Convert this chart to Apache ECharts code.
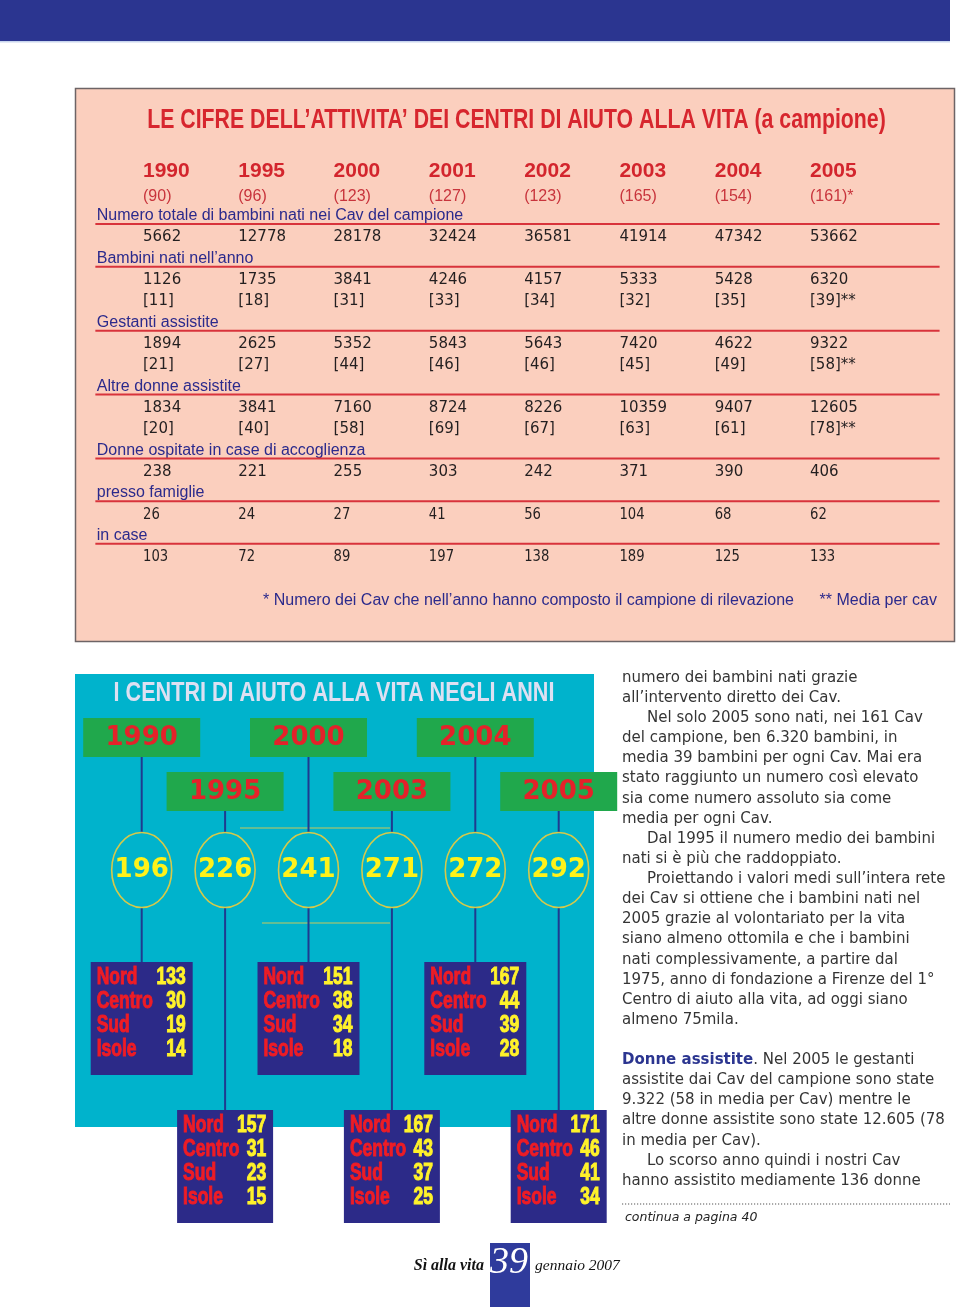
<!DOCTYPE html>
<html><head><meta charset="utf-8">
<script src="https://cdn.jsdelivr.net/npm/echarts@6/dist/echarts.min.js"></script>
<style>html,body{margin:0;padding:0;background:#fff}#c{width:960px;height:1307px}</style>
</head><body><div id="c"></div>
<script>
// ---------- DATA: table ----------
const years = ['1990','1995','2000','2001','2002','2003','2004','2005'];
const cavSample = [90, 96, 123, 127, 123, 165, 154, 161];
const cavSampleNote = ['', '', '', '', '', '', '', '*'];
const rowLabels = [
  'Numero totale di bambini nati nei Cav del campione',
  'Bambini nati nell’anno',
  'Gestanti assistite',
  'Altre donne assistite',
  'Donne ospitate in case di accoglienza',
  'presso famiglie',
  'in case'
];
const totalBorn   = [5662, 12778, 28178, 32424, 36581, 41914, 47342, 53662];
const bornYear    = [1126, 1735, 3841, 4246, 4157, 5333, 5428, 6320];
const bornAvg     = [11, 18, 31, 33, 34, 32, 35, 39];
const pregnant    = [1894, 2625, 5352, 5843, 5643, 7420, 4622, 9322];
const pregnantAvg = [21, 27, 44, 46, 46, 45, 49, 58];
const otherWomen  = [1834, 3841, 7160, 8724, 8226, 10359, 9407, 12605];
const otherAvg    = [20, 40, 58, 69, 67, 63, 61, 78];
const hosted      = [238, 221, 255, 303, 242, 371, 390, 406];
const families    = [26, 24, 27, 41, 56, 104, 68, 62];
const inHomes     = [103, 72, 89, 197, 138, 189, 125, 133];

// ---------- DATA: timeline ----------
const timelineYears = ['1990','1995','2000','2003','2004','2005'];
const cavTotal = [196, 226, 241, 271, 272, 292];
const regionNames = ['Nord','Centro','Sud','Isole'];
const nord   = [133, 157, 151, 167, 167, 171];
const centro = [30, 31, 38, 43, 44, 46];
const sud    = [19, 23, 34, 37, 39, 41];
const isole  = [14, 15, 18, 25, 28, 34];

// ---------- build table cells ----------
const SANS = 'Liberation Sans, Arial, sans-serif';
const DV = 'DejaVu Sans, sans-serif';
const cells = [];
years.forEach((y, i) => {
  cells.push({x: i, y: -2.1, text: y, k: 'year'});
  cells.push({x: i, y: -0.93, text: '(' + cavSample[i] + ')' + cavSampleNote[i], k: 'cnt'});
});
const groups = [
  {label: rowLabels[0], rows: [totalBorn], avg: null},
  {label: rowLabels[1], rows: [bornYear], avg: bornAvg},
  {label: rowLabels[2], rows: [pregnant], avg: pregnantAvg},
  {label: rowLabels[3], rows: [otherWomen], avg: otherAvg},
  {label: rowLabels[4], rows: [hosted], avg: null},
  {label: rowLabels[5], rows: [families], avg: null, narrow: true},
  {label: rowLabels[6], rows: [inHomes], avg: null, narrow: true}
];
let line = 0;
groups.forEach(g => {
  cells.push({x: -0.485, y: line, text: g.label, k: 'label'});
  cells.push({x: -0.5, x2: 8.36, y: line + 0.38, k: 'rule'});
  line++;
  g.rows.forEach(r => {
    r.forEach((v, i) => cells.push({x: i, y: line, text: String(v), k: g.narrow ? 'valn' : 'val'}));
    line++;
  });
  if (g.avg) {
    g.avg.forEach((v, i) => cells.push({x: i, y: line, text: '[' + v + ']' + (i === 7 ? '**' : ''), k: 'val'}));
    line++;
  }
});

function renderTable(params, api) {
  const c = cells[api.value(2)];
  const p = api.coord([c.x, c.y]);
  if (c.k === 'rule') {
    const p2 = api.coord([c.x2, c.y]);
    return {type: 'line', shape: {x1: p[0], y1: p[1], x2: p2[0], y2: p2[1]},
      style: {stroke: '#d8333b', lineWidth: 2}};
  }
  const st = {text: c.text, align: 'left', textAlign: 'left', verticalAlign: 'middle', textVerticalAlign: 'middle'};
  let sx = 1;
  if (c.k === 'year') Object.assign(st, {fill: '#d3252d', fontFamily: SANS, fontWeight: 'bold', fontSize: 21});
  else if (c.k === 'cnt') Object.assign(st, {fill: '#c8343c', fontFamily: SANS, fontSize: 16});
  else if (c.k === 'label') Object.assign(st, {fill: '#2b2a8c', fontFamily: SANS, fontSize: 16});
  else if (c.k === 'valn') { Object.assign(st, {fill: '#231f20', fontFamily: DV, fontSize: 16.5}); sx = 0.8; }
  else Object.assign(st, {fill: '#231f20', fontFamily: DV, fontSize: 15});
  return {type: 'text', x: p[0], y: p[1], scaleX: sx, style: st};
}

// ---------- timeline renderer ----------
function renderTimeline(params, api) {
  const i = api.value(0);
  const x = api.coord([i, 0])[0];
  const upper = i % 2 === 0;
  const gTop = upper ? 718 : 772, gH = 39, gW = 117;
  const cy = 870, rx = 30, ry = 37.5;
  const bTop = upper ? 962 : 1110, bH = 113, bW = upper ? 102 : 96;
  const vals = [api.value(2), api.value(3), api.value(4), api.value(5)];
  const ch = [
    {type: 'line', shape: {x1: x, y1: gTop + gH, x2: x, y2: cy - ry}, style: {stroke: '#1f3a8f', lineWidth: 2}},
    {type: 'line', shape: {x1: x, y1: cy + ry, x2: x, y2: bTop}, style: {stroke: '#1f3a8f', lineWidth: 2}},
    {type: 'rect', shape: {x: x - gW / 2, y: gTop, width: gW, height: gH}, style: {fill: '#20a84c'}},
    {type: 'text', x: x, y: gTop + gH / 2 + 1, style: {text: timelineYears[i], fill: '#e4222a',
      fontFamily: DV, fontWeight: 'bold', fontSize: 26, align: 'center', textAlign: 'center',
      verticalAlign: 'middle', textVerticalAlign: 'middle',
      textShadowColor: '#f6e6d8', textShadowOffsetX: -1.6, textShadowOffsetY: -1, textShadowBlur: 0}},
    {type: 'ellipse', shape: {cx: x, cy: cy, rx: rx, ry: ry}, style: {fill: 'none', stroke: '#d6c94a', lineWidth: 1.6}},
    {type: 'text', x: x, y: cy, style: {text: String(api.value(1)), fill: '#fff21a',
      fontFamily: DV, fontWeight: 'bold', fontSize: 26, align: 'center', textAlign: 'center',
      verticalAlign: 'middle', textVerticalAlign: 'middle'}},
    {type: 'rect', shape: {x: x - bW / 2, y: bTop, width: bW, height: bH}, style: {fill: '#2c2a88'}}
  ];
  regionNames.forEach((r, k) => {
    const ty = bTop + 16 + k * 24;
    ch.push({type: 'text', x: x - bW / 2 + 6, y: ty, scaleX: 0.76, style: {text: r, fill: '#ee1c25',
      stroke: '#ee1c25', lineWidth: 1,
      fontFamily: SANS, fontWeight: 'bold', fontSize: 23, align: 'left', textAlign: 'left',
      verticalAlign: 'middle', textVerticalAlign: 'middle',
      textShadowColor: '#ffffff', textShadowOffsetX: -1.2, textShadowOffsetY: -0.6, textShadowBlur: 0}});
    ch.push({type: 'text', x: x + bW / 2 - 7, y: ty, scaleX: 0.76, style: {text: String(vals[k]), fill: '#fff22a',
      stroke: '#fff22a', lineWidth: 1,
      fontFamily: SANS, fontWeight: 'bold', fontSize: 23, align: 'right', textAlign: 'right',
      verticalAlign: 'middle', textVerticalAlign: 'middle'}});
  });
  return {type: 'group', children: ch};
}

// ---------- side text ----------
const body1 = [
  ['numero dei bambini nati grazie', 0],
  ['all’intervento diretto dei Cav.', 0],
  ['Nel solo 2005 sono nati, nei 161 Cav', 1],
  ['del campione, ben 6.320 bambini, in', 0],
  ['media 39 bambini per ogni Cav. Mai era', 0],
  ['stato raggiunto un numero così elevato', 0],
  ['sia come numero assoluto sia come', 0],
  ['media per ogni Cav.', 0],
  ['Dal 1995 il numero medio dei bambini', 1],
  ['nati si è più che raddoppiato.', 0],
  ['Proiettando i valori medi sull’intera rete', 1],
  ['dei Cav si ottiene che i bambini nati nel', 0],
  ['2005 grazie al volontariato per la vita', 0],
  ['siano almeno ottomila e che i bambini', 0],
  ['nati complessivamente, a partire dal', 0],
  ['1975, anno di fondazione a Firenze del 1°', 0],
  ['Centro di aiuto alla vita, ad oggi siano', 0],
  ['almeno 75mila.', 0]
];
const body2 = [
  ['{b|Donne assistite}. Nel 2005 le gestanti', 0],
  ['assistite dai Cav del campione sono state', 0],
  ['9.322 (58 in media per Cav) mentre le', 0],
  ['altre donne assistite sono state 12.605 (78', 0],
  ['in media per Cav).', 0],
  ['Lo scorso anno quindi i nostri Cav', 1],
  ['hanno assistito mediamente 136 donne', 0]
];
const graphics = [
  {type: 'rect', z: 0, shape: {x: 0, y: 0, width: 950, height: 41}, style: {fill: '#2b3590'}},
  {type: 'rect', z: 0, shape: {x: 0, y: 41, width: 950, height: 1.5}, style: {fill: '#c9d6ee'}},
  {type: 'rect', z: 0, shape: {x: 75.5, y: 88.5, width: 879, height: 553}, style: {fill: '#fbcfbe', stroke: '#6d6466', lineWidth: 1.5}},
  {type: 'text', z: 5, x: 516.5, y: 120, scaleX: 0.76, style: {text: 'LE CIFRE DELL’ATTIVITA’ DEI CENTRI DI AIUTO ALLA VITA (a campione)',
    fill: '#d7262e', font: 'bold 28px Liberation Sans, Arial, sans-serif', textAlign: 'center', align: 'center', textVerticalAlign: 'middle', verticalAlign: 'middle'}},
  {type: 'text', z: 5, x: 263, y: 601, style: {text: '* Numero dei Cav che nell’anno hanno composto il campione di rilevazione',
    fill: '#2b2a8c', font: '16px Liberation Sans, Arial, sans-serif', textAlign: 'left', align: 'left', textVerticalAlign: 'middle', verticalAlign: 'middle'}},
  {type: 'text', z: 5, x: 937, y: 601, style: {text: '** Media per cav',
    fill: '#2b2a8c', font: '16px Liberation Sans, Arial, sans-serif', textAlign: 'right', align: 'right', textVerticalAlign: 'middle', verticalAlign: 'middle'}},
  {type: 'rect', z: 0, shape: {x: 75, y: 674, width: 519, height: 453}, style: {fill: '#00b3cc'}},
  {type: 'line', z: 1, shape: {x1: 240, y1: 828, x2: 390, y2: 828}, style: {stroke: '#c9c85a', lineWidth: 1}},
  {type: 'line', z: 1, shape: {x1: 262, y1: 923, x2: 390, y2: 923}, style: {stroke: '#c9c85a', lineWidth: 1}},
  {type: 'text', z: 5, x: 334, y: 694, scaleX: 0.8, style: {text: 'I CENTRI DI AIUTO ALLA VITA NEGLI ANNI',
    fill: '#dde0f2', font: 'bold 27px Liberation Sans, Arial, sans-serif', textAlign: 'center', align: 'center', textVerticalAlign: 'middle', verticalAlign: 'middle'}}
];
const bodyStyle = {fill: '#353535', font: '15px DejaVu Sans, sans-serif', textAlign: 'left', align: 'left', textVerticalAlign: 'middle', verticalAlign: 'middle'};
body1.forEach((l, k) => graphics.push({type: 'text', z: 5, x: 622 + l[1] * 25, y: 678 + k * 20.12,
  style: Object.assign({text: l[0]}, bodyStyle)}));
body2.forEach((l, k) => graphics.push({type: 'text', z: 5, x: 622 + l[1] * 25, y: 1060 + k * 20.17,
  style: Object.assign({text: l[0], rich: {b: {fill: '#2b3590', fontWeight: 'bold', fontSize: 15, fontFamily: 'DejaVu Sans, sans-serif'}}}, bodyStyle)}));
graphics.push(
  {type: 'line', z: 5, shape: {x1: 622, y1: 1204, x2: 950, y2: 1204}, style: {stroke: '#555', lineWidth: 1.2, lineDash: [1.2, 1.8]}},
  {type: 'text', z: 5, x: 625, y: 1218, style: {text: 'continua a pagina 40', fill: '#222',
    font: 'italic 12.5px DejaVu Sans, sans-serif', textAlign: 'left', align: 'left', textVerticalAlign: 'middle', verticalAlign: 'middle'}},
  {type: 'rect', z: 0, shape: {x: 490, y: 1243, width: 40, height: 64}, style: {fill: '#2f3b9c'}},
  {type: 'text', z: 5, x: 509, y: 1263, style: {text: '39', fill: '#ffffff',
    font: 'italic 38px Liberation Serif, serif', textAlign: 'center', align: 'center', textVerticalAlign: 'middle', verticalAlign: 'middle'}},
  {type: 'text', z: 5, x: 484, y: 1266, style: {text: 'Sì alla vita', fill: '#111',
    font: 'italic bold 16px Liberation Serif, serif', textAlign: 'right', align: 'right', textVerticalAlign: 'middle', verticalAlign: 'middle'}},
  {type: 'text', z: 5, x: 535, y: 1266, style: {text: 'gennaio 2007', fill: '#111',
    font: 'italic 15.5px Liberation Serif, serif', textAlign: 'left', align: 'left', textVerticalAlign: 'middle', verticalAlign: 'middle'}}
);

const chart = echarts.init(document.getElementById('c'), null, {renderer: 'canvas'});
const U = 21.31;
chart.setOption({
  animation: false,
  backgroundColor: '#ffffff',
  grid: [
    {left: 143, width: 667, top: 216 - 2.1 * U, height: 18.1 * U},
    {left: 141.7, width: 417, top: 674, height: 453}
  ],
  xAxis: [
    {type: 'value', gridIndex: 0, min: 0, max: 7, show: false},
    {type: 'value', gridIndex: 1, min: 0, max: 5, show: false}
  ],
  yAxis: [
    {type: 'value', gridIndex: 0, min: -2.1, max: 16, inverse: true, show: false},
    {type: 'value', gridIndex: 1, min: 0, max: 1, show: false}
  ],
  graphic: graphics,
  series: [
    {type: 'custom', xAxisIndex: 0, yAxisIndex: 0, z: 3, silent: true,
     data: cells.map((c, i) => [c.x, c.y, i]), renderItem: renderTable},
    {type: 'custom', xAxisIndex: 1, yAxisIndex: 1, z: 3, silent: true,
     data: timelineYears.map((y, i) => [i, cavTotal[i], nord[i], centro[i], sud[i], isole[i]]),
     encode: {x: 0, y: -1}, renderItem: renderTimeline}
  ]
});
</script></body></html>
